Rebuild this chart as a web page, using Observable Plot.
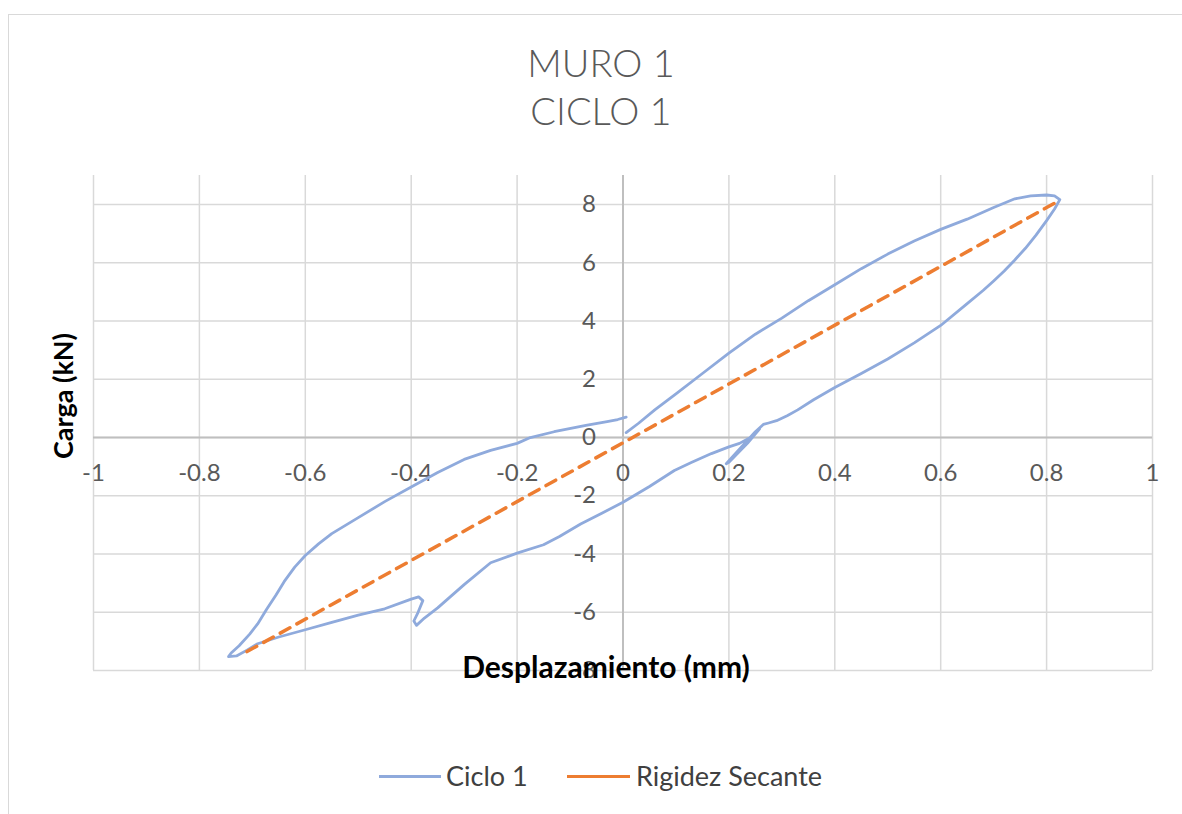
<!DOCTYPE html>
<html>
<head>
<meta charset="utf-8">
<script src="https://cdn.jsdelivr.net/npm/d3@7"></script>
<script src="https://cdn.jsdelivr.net/npm/@observablehq/plot@0.6"></script>
<style>
  body { margin: 0; background: #fff; }
  #wrap { position: relative; width: 1182px; height: 814px; overflow: hidden; font-family: Lato, "Open Sans", sans-serif; }
  #frame { position: absolute; left: 8px; top: 14px; width: 1300px; height: 900px; border: 1px solid #d9d9d9; box-sizing: border-box; }
  #chart { position: absolute; left: 0; top: 0; }
  .title { position: absolute; left: 0; width: 1202px; text-align: center; color: #595959; font-size: 38px; font-weight: 300; line-height: 1; }
  .legend-swatch { position: absolute; height: 3px; }
  .legend-text { position: absolute; color: #404040; font-size: 27px; line-height: 1; }
  #ylabel { position: absolute; left: 62px; top: 396px; transform: translate(-50%, -50%) rotate(-90deg); font-weight: bold; font-size: 27px; color: #000; white-space: nowrap; line-height: 1; }
</style>
</head>
<body>
<div id="wrap">
  <div id="frame"></div>
  <div id="chart"></div>
  <div class="title" style="top:43px;">MURO 1</div>
  <div class="title" style="top:91px;">CICLO 1</div>
  <div id="ylabel">Carga (kN)</div>
  <div class="legend-swatch" style="left:379px; top:775px; width:62px; background:#8faadc;"></div>
  <div class="legend-text" style="left:446px; top:762px;">Ciclo 1</div>
  <div class="legend-swatch" style="left:567px; top:775px; width:63px; background:#ed7d31;"></div>
  <div class="legend-text" style="left:636px; top:762px;">Rigidez Secante</div>
</div>
<script>
// Tick values and labels
const xTicks = [-1, -0.8, -0.6, -0.4, -0.2, 0, 0.2, 0.4, 0.6, 0.8, 1];
const xTickLabels = ["-1", "-0.8", "-0.6", "-0.4", "-0.2", "0", "0.2", "0.4", "0.6", "0.8", "1"];
const yTicks = [-8, -6, -4, -2, 0, 2, 4, 6, 8];
const yTickLabels = ["-8", "-6", "-4", "-2", "0", "2", "4", "6", "8"];

// Series "Ciclo 1" (displacement mm, load kN)
const cicloX = [
  0.006, 0.03, 0.06, 0.1, 0.15, 0.2, 0.25, 0.3, 0.35, 0.4, 0.45, 0.5, 0.55, 0.6, 0.65, 0.7, 0.74, 0.77, 0.8, 0.815, 0.825,
  0.815, 0.8, 0.78, 0.76, 0.74, 0.72, 0.7, 0.68, 0.65, 0.6, 0.55, 0.5, 0.45, 0.4, 0.36, 0.33, 0.31, 0.29, 0.275, 0.265,
  0.25, 0.225, 0.195, 0.2, 0.235, 0.258, 0.245, 0.22, 0.2,
  0.167, 0.13, 0.097, 0.05, 0.0, -0.04, -0.08, -0.12, -0.15, -0.2, -0.25, -0.3, -0.35, -0.375, -0.39,
  -0.395, -0.387, -0.378, -0.386, -0.4, -0.45, -0.5, -0.55, -0.6, -0.65, -0.69, -0.71, -0.73, -0.745, -0.74,
  -0.725, -0.705, -0.69, -0.673, -0.655, -0.64, -0.62, -0.6, -0.575, -0.55, -0.5, -0.45, -0.4, -0.35, -0.3, -0.25, -0.2, -0.175, -0.13, -0.07, -0.03, -0.01, 0.006
];
const cicloY = [
  0.17, 0.5, 0.95, 1.5, 2.2, 2.9, 3.55, 4.1, 4.7, 5.25, 5.8, 6.3, 6.75, 7.15, 7.5, 7.9, 8.2, 8.3, 8.33, 8.3, 8.17,
  7.85, 7.45, 6.95, 6.5, 6.1, 5.72, 5.38, 5.05, 4.6, 3.85, 3.25, 2.7, 2.2, 1.72, 1.3, 0.95, 0.75, 0.58, 0.5, 0.45,
  0.2, -0.3, -0.9, -0.85, -0.2, 0.3, 0.05, -0.2, -0.32,
  -0.55, -0.85, -1.13, -1.68, -2.22, -2.6, -2.97, -3.4, -3.68, -3.97, -4.3, -5.05, -5.85, -6.2, -6.45,
  -6.3, -6.0, -5.6, -5.47, -5.55, -5.88, -6.1, -6.35, -6.6, -6.85, -7.08, -7.3, -7.5, -7.52, -7.4,
  -7.15, -6.75, -6.4, -5.9, -5.4, -4.95, -4.45, -4.05, -3.65, -3.3, -2.75, -2.2, -1.7, -1.2, -0.75, -0.44, -0.2, 0.0, 0.2, 0.42, 0.55, 0.62, 0.7
];

// Series "Rigidez Secante"
const secX = [-0.71, 0.825];
const secY = [-7.35, 8.15];

const ciclo = cicloX.map((x, i) => ({x, y: cicloY[i]}));
const secante = secX.map((x, i) => ({x, y: secY[i]}));

const font = "Lato, 'Open Sans', sans-serif";

const chart = Plot.plot({
  width: 1182,
  height: 720,
  marginLeft: 93,
  marginRight: 30,
  marginTop: 175,
  marginBottom: 50,
  x: {domain: [-1, 1], axis: null},
  y: {domain: [-8, 9], axis: null},
  style: {background: "transparent", fontFamily: font, overflow: "visible"},
  marks: [
    Plot.ruleX(xTicks, {x: d => d, stroke: "#d9d9d9", strokeWidth: 1.5}),
    Plot.ruleY(yTicks, {y: d => d, stroke: "#d9d9d9", strokeWidth: 1.5}),
    Plot.ruleX([0], {x: d => d, stroke: "#bfbfbf", strokeWidth: 2}),
    Plot.ruleY([0], {y: d => d, stroke: "#bfbfbf", strokeWidth: 2}),
    Plot.text(xTicks, {x: d => d, y: 0, dy: 36, text: (d, i) => xTickLabels[i], fill: "#595959", fontSize: 24}),
    Plot.text(yTicks, {x: 0, y: d => d, dx: -27, text: (d, i) => yTickLabels[i], textAnchor: "end", fill: "#595959", fontSize: 24}),
    Plot.line(ciclo, {x: "x", y: "y", stroke: "#8faadc", strokeWidth: 2.8, strokeLinejoin: "round"}),
    Plot.line(secante, {x: "x", y: "y", stroke: "#ed7d31", strokeWidth: 3.5, strokeDasharray: "11,8"}),
    Plot.text(["Desplazamiento (mm)"], {frameAnchor: "bottom", lineAnchor: "middle", dx: -17, dy: -2, text: d => d, fontWeight: "bold", fontSize: 30, fill: "#000"})
  ]
});
document.getElementById("chart").appendChild(chart);
</script>
</body>
</html>
